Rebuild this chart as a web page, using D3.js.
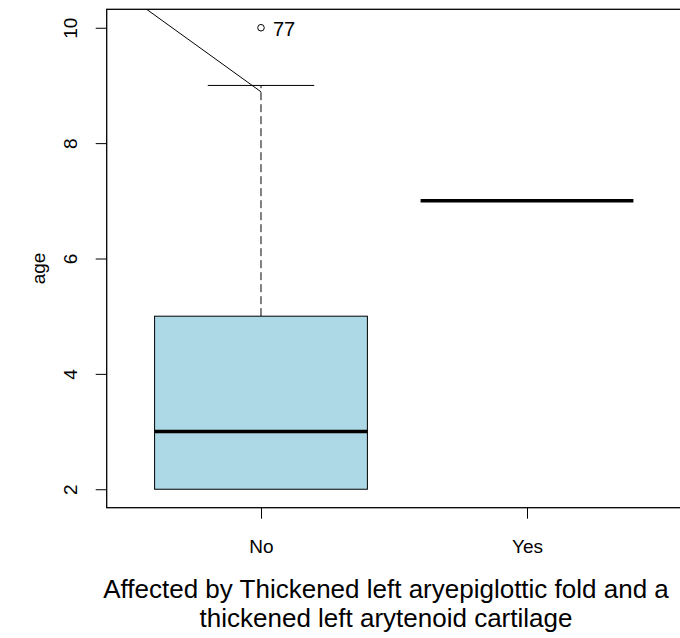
<!DOCTYPE html>
<html>
<head>
<meta charset="utf-8">
<script src="https://cdn.jsdelivr.net/npm/d3@7"></script>
<style>
  body { margin: 0; background: #fff; }
  svg { display: block; }
  text { font-family: "Liberation Sans", Arial, Helvetica, sans-serif; fill: #000; }
</style>
</head>
<body>
<svg id="chart" width="680" height="638"></svg>
<script>
// ---- data ----
const categories = ["No", "Yes"];
const q1Values = [2, 7];
const medianValues = [3, 7];
const q3Values = [5, 7];
const whiskerLow = [2, 7];
const whiskerHigh = [9, 7];
const outliers = [{ cat: "No", value: 10, label: "77" }];
const yTicks = [2, 4, 6, 8, 10];
const yDomain = [1.68, 10.32];
const annotationLine = [{ pos: 0.57, value: 10.32 }, { pos: 1.0, value: 8.89 }];
const xTitleLines = ["Affected by Thickened left aryepiglottic fold and a", "thickened left arytenoid cartilage"];
const yTitle = "age";

// ---- layout ----
const svg = d3.select("#chart");
const plot = { left: 106.7, right: 681.3, top: 9.3, bottom: 507.7 };

const x = d3.scalePoint().domain(categories).range([plot.left, plot.right]).padding(0.58);
const step = x.step();
const xNum = d3.scaleLinear().domain([1, 2]).range([x("No"), x("Yes")]);
const y = d3.scaleLinear().domain(yDomain).range([plot.bottom, plot.top]);

const boxHalf = step * 0.4;
const capHalf = boxHalf / 2;

svg.append("defs").append("clipPath").attr("id", "clip")
  .append("rect").attr("x", plot.left).attr("y", plot.top)
  .attr("width", plot.right - plot.left).attr("height", plot.bottom - plot.top);

const g = svg.append("g").attr("clip-path", "url(#clip)");

categories.forEach((c, i) => {
  const cx = x(c);
  // whiskers
  if (whiskerHigh[i] > q3Values[i]) {
    g.append("line").attr("x1", cx).attr("x2", cx)
      .attr("y1", y(q3Values[i])).attr("y2", y(whiskerHigh[i]))
      .attr("stroke", "#000").attr("stroke-width", 1).attr("stroke-dasharray", "8,4");
    g.append("line").attr("x1", cx - capHalf).attr("x2", cx + capHalf)
      .attr("y1", y(whiskerHigh[i])).attr("y2", y(whiskerHigh[i]))
      .attr("stroke", "#000").attr("stroke-width", 1);
  }
  if (whiskerLow[i] < q1Values[i]) {
    g.append("line").attr("x1", cx).attr("x2", cx)
      .attr("y1", y(q1Values[i])).attr("y2", y(whiskerLow[i]))
      .attr("stroke", "#000").attr("stroke-width", 1).attr("stroke-dasharray", "8,4");
    g.append("line").attr("x1", cx - capHalf).attr("x2", cx + capHalf)
      .attr("y1", y(whiskerLow[i])).attr("y2", y(whiskerLow[i]))
      .attr("stroke", "#000").attr("stroke-width", 1);
  }
  // box
  if (q3Values[i] > q1Values[i]) {
    g.append("rect").attr("x", cx - boxHalf).attr("y", y(q3Values[i]))
      .attr("width", boxHalf * 2).attr("height", y(q1Values[i]) - y(q3Values[i]))
      .attr("fill", "#ADD8E6").attr("stroke", "#000").attr("stroke-width", 1);
  }
  // median
  g.append("line").attr("x1", cx - boxHalf).attr("x2", cx + boxHalf)
    .attr("y1", y(medianValues[i])).attr("y2", y(medianValues[i]))
    .attr("stroke", "#000").attr("stroke-width", 3.5);
});

// outliers
outliers.forEach(o => {
  g.append("circle").attr("cx", x(o.cat)).attr("cy", y(o.value)).attr("r", 3.3)
    .attr("fill", "none").attr("stroke", "#000").attr("stroke-width", 1);
  svg.append("text").attr("x", x(o.cat) + 12).attr("y", y(o.value) + 8)
    .attr("font-size", 20).text(o.label);
});

// annotation line
g.append("path")
  .attr("d", d3.line().x(d => xNum(d.pos)).y(d => y(d.value))(annotationLine))
  .attr("stroke", "#000").attr("stroke-width", 1).attr("fill", "none");

// frame
svg.append("rect").attr("x", plot.left).attr("y", plot.top)
  .attr("width", plot.right - plot.left).attr("height", plot.bottom - plot.top)
  .attr("fill", "none").attr("stroke", "#000").attr("stroke-width", 1.3);

// y axis
const yAxis = svg.append("g").attr("transform", `translate(${plot.left},0)`)
  .call(d3.axisLeft(y).tickValues(yTicks).tickSize(11).tickFormat(d3.format("d")));
yAxis.select(".domain").remove();
yAxis.selectAll(".tick line").attr("stroke", "#000");
yAxis.selectAll(".tick text")
  .attr("font-size", 19).attr("font-family", null).attr("fill", "#000")
  .attr("x", null).attr("dy", null).attr("text-anchor", "middle")
  .attr("transform", "translate(-30,0) rotate(-90)");

// x axis
const xAxis = svg.append("g").attr("transform", `translate(0,${plot.bottom})`)
  .call(d3.axisBottom(x).tickSize(11));
xAxis.select(".domain").remove();
xAxis.selectAll(".tick line").attr("stroke", "#000");
xAxis.selectAll(".tick text")
  .attr("font-size", 19).attr("font-family", null).attr("fill", "#000")
  .attr("y", 45).attr("dy", null);

// titles
svg.append("text").attr("transform", `translate(45,${(plot.top + plot.bottom) / 2 + 10}) rotate(-90)`)
  .attr("text-anchor", "middle").attr("font-size", 19).text(yTitle);

xTitleLines.forEach((t, i) => {
  svg.append("text").attr("x", 386).attr("y", 598 + i * 29)
    .attr("text-anchor", "middle").attr("font-size", 26).text(t);
});
</script>
</body>
</html>
